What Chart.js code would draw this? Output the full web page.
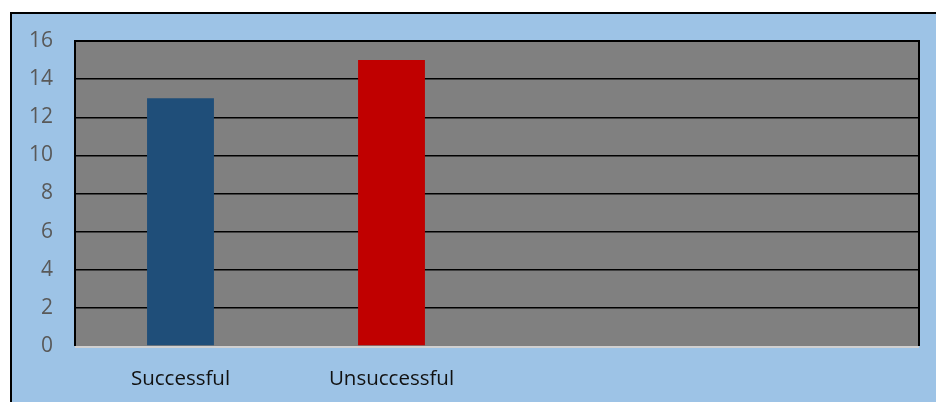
<!DOCTYPE html>
<html>
<head>
<meta charset="utf-8">
<script src="https://cdn.jsdelivr.net/npm/chart.js@4"></script>
<style>
  html, body { margin: 0; padding: 0; background: #fff; overflow: hidden; }
  #frame { position: absolute; left: 10px; top: 12px; width: 940px; height: 400px;
           border: 2px solid #000; background: #9dc3e6; }
  #wrap { position: absolute; left: 0; top: 0; width: 936px; height: 402px; }
</style>
</head>
<body>
<div id="frame"></div>
<div id="wrap"><canvas id="chart"></canvas></div>
<script>
const categories = ['Successful', 'Unsuccessful', '', ''];
const counts = [13, 15, null, null];
const barColors = ['#1f4e79', '#c00000', '#808080', '#808080'];
const yTicks = [0, 2, 4, 6, 8, 10, 12, 14, 16];

// gray plot background with black frame
const plotArea = {
    id: 'plotArea',
    beforeDraw(chart) {
        const { ctx, chartArea: a } = chart;
        ctx.save();
        ctx.fillStyle = '#808080';
        ctx.fillRect(a.left, a.top, a.right - a.left, a.bottom - a.top);
        ctx.restore();
    },
    afterDraw(chart) {
        const { ctx, chartArea: a } = chart;
        ctx.save();
        ctx.strokeStyle = '#000';
        ctx.lineWidth = 2;
        ctx.beginPath();
        ctx.moveTo(a.left, a.bottom);
        ctx.lineTo(a.left, a.top);
        ctx.lineTo(a.right, a.top);
        ctx.lineTo(a.right, a.bottom);
        ctx.stroke();
        ctx.strokeStyle = '#d0d0d0';
        ctx.beginPath();
        ctx.moveTo(a.left, a.bottom + 1);
        ctx.lineTo(a.right, a.bottom + 1);
        ctx.stroke();
        ctx.restore();
    }
};

new Chart(document.getElementById('chart').getContext('2d'), {
    type: 'bar',
    data: {
        labels: categories,
        datasets: [{
            data: counts,
            backgroundColor: barColors,
            borderWidth: 0,
            categoryPercentage: 1,
            barPercentage: 0.317
        }]
    },
    options: {
        responsive: true,
        maintainAspectRatio: false,
        animation: false,
        layout: { padding: { left: 0, top: 41, right: 17, bottom: 0 } },
        plugins: {
            legend: { display: false },
            tooltip: { enabled: false }
        },
        scales: {
            x: {
                grid: { display: false },
                border: { display: false },
                ticks: {
                    color: '#111',
                    padding: 13,
                    maxRotation: 0,
                    font: { family: 'Open Sans', size: 20.5 }
                },
                afterFit(s) { s.height = 56; }
            },
            y: {
                min: 0,
                max: 16,
                afterBuildTicks(s) { s.ticks = yTicks.map(v => ({ value: v })); },
                grid: {
                    color: c => c.tick && c.tick.value === 0 ? 'rgba(0,0,0,0)' : '#000',
                    lineWidth: 1.5,
                    drawTicks: false
                },
                border: { display: false },
                ticks: {
                    color: '#595959',
                    padding: 22,
                    font: { family: 'Open Sans', size: 21 }
                },
                afterFit(s) { s.width = 75; }
            }
        }
    },
    plugins: [plotArea]
});
</script>
</body>
</html>
